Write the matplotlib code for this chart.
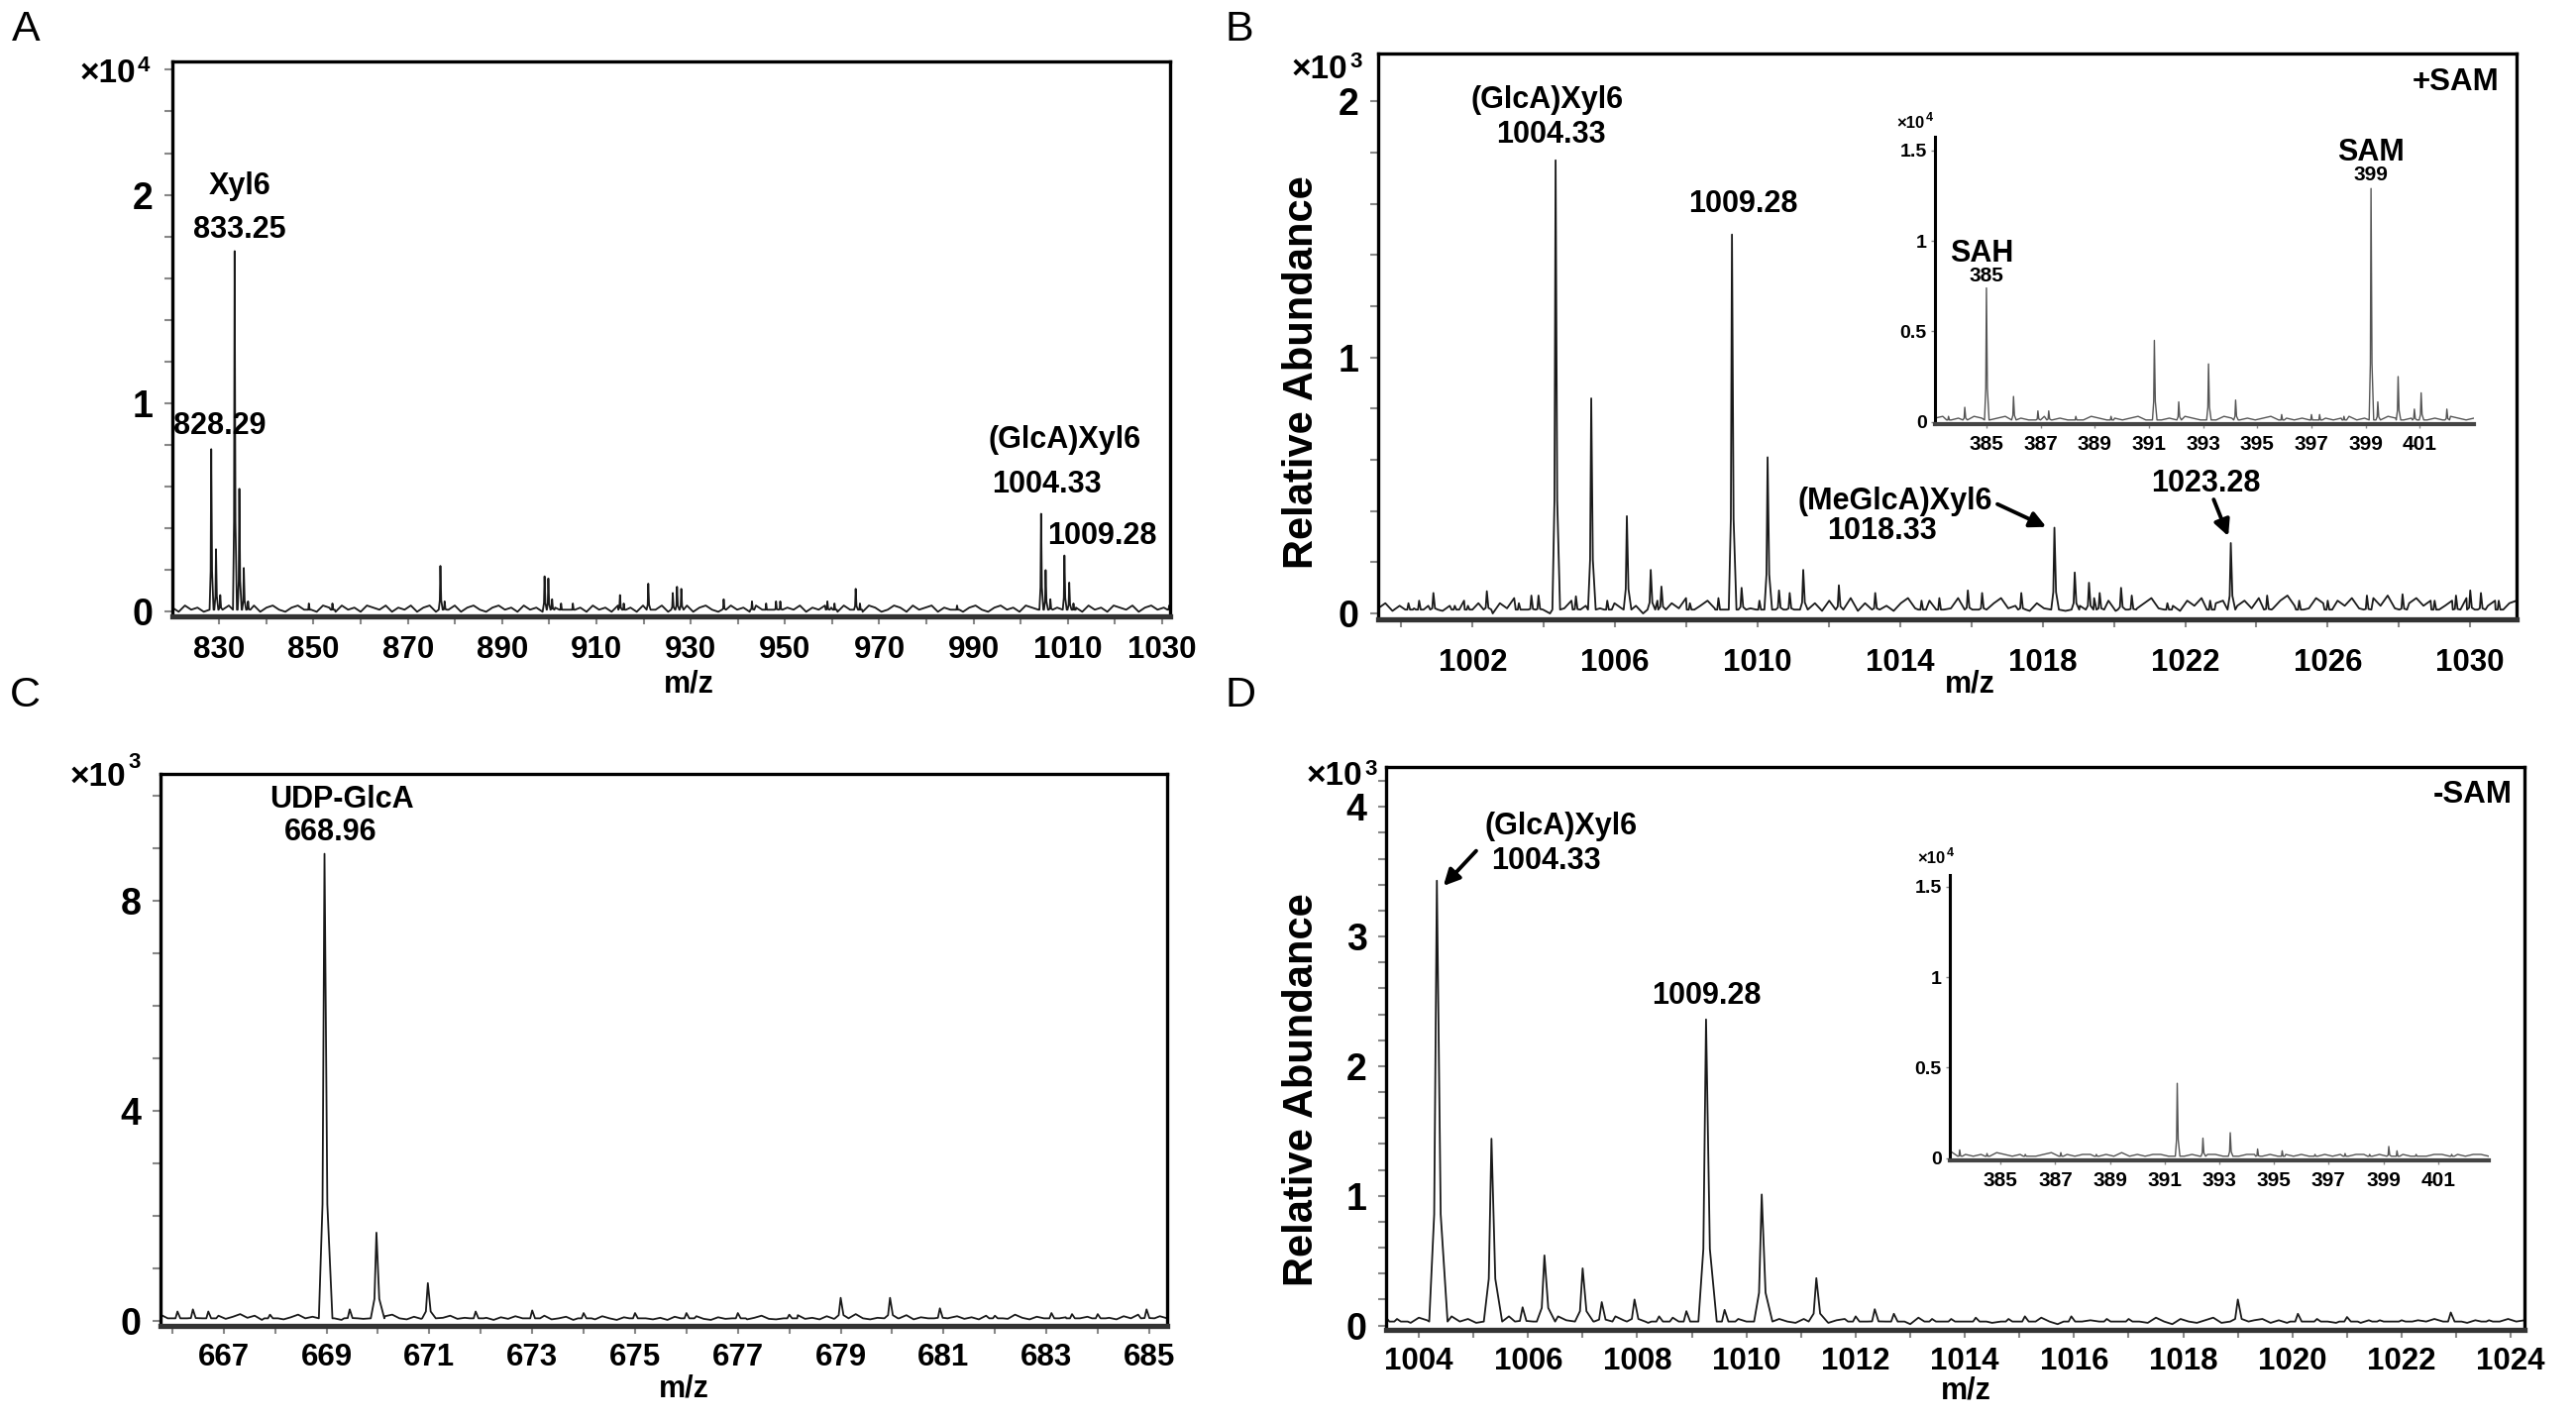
import numpy as np
import matplotlib
matplotlib.use("Agg")
import matplotlib.pyplot as plt
from matplotlib.ticker import MultipleLocator

W, H = 2600, 1435

# ===============================
# Data: peaks (m/z, intensity) + baseline noise
# ===============================
# Panel A, intensity in units of 1e4
a_mz = [828.29, 829.3, 830.2, 833.25, 834.25, 835.2, 836.1, 849.0, 854.0, 876.9, 877.8,
        899.0, 899.8, 900.6, 902.5, 905.0, 915.0, 915.8, 921.0, 926.2, 927.1, 928.0,
        937.0, 943.0, 946.0, 948.1, 949.0, 959.0, 960.5, 965.0, 965.9, 986.5,
        1004.33, 1005.3, 1006.3, 1009.28, 1010.3, 1011.2, 1031.5]
a_int = [0.78, 0.30, 0.08, 1.73, 0.59, 0.21, 0.05, 0.04, 0.04, 0.22, 0.05,
         0.17, 0.16, 0.06, 0.04, 0.04, 0.08, 0.04, 0.135, 0.09, 0.12, 0.11,
         0.06, 0.05, 0.04, 0.05, 0.05, 0.05, 0.04, 0.11, 0.04, 0.03,
         0.47, 0.20, 0.06, 0.27, 0.14, 0.04, 0.03]
a_noise = [0.02, 0.00, 0.03, 0.01, 0.02, 0.00, 0.03, 0.01, 0.02, 0.03,
           0.00, 0.02, 0.01, 0.03, 0.00, 0.02, 0.03, 0.01, 0.00, 0.02,
           0.03, 0.01, 0.02, 0.00, 0.03, 0.02, 0.00, 0.03, 0.01, 0.02,
           0.00, 0.03, 0.02, 0.01, 0.03, 0.00, 0.02, 0.01, 0.03, 0.00,
           0.02, 0.03, 0.00, 0.02, 0.01, 0.03, 0.00, 0.02, 0.03, 0.01,
           0.00, 0.02, 0.03, 0.01, 0.02, 0.00, 0.03, 0.01, 0.02, 0.00,
           0.03, 0.02, 0.00, 0.01, 0.03, 0.02, 0.00, 0.03, 0.01, 0.02,
           0.00, 0.03, 0.01, 0.02, 0.00, 0.03, 0.02, 0.01, 0.03, 0.00,
           0.02, 0.01, 0.03, 0.00, 0.02, 0.03, 0.01, 0.00, 0.02, 0.03,
           0.01, 0.02, 0.00, 0.03, 0.01, 0.02, 0.03, 0.00, 0.02, 0.01,
           0.03, 0.00, 0.02, 0.01, 0.03, 0.02, 0.00, 0.03, 0.01, 0.02,
           0.00, 0.03, 0.02, 0.00, 0.01, 0.03, 0.02, 0.00, 0.03, 0.01,
           0.02, 0.03, 0.00, 0.02, 0.01, 0.03, 0.00, 0.02, 0.03, 0.01,
           0.00, 0.02, 0.03, 0.01, 0.02, 0.00, 0.03, 0.02, 0.01, 0.03,
           0.00, 0.02, 0.01, 0.03, 0.02, 0.00, 0.03, 0.01, 0.02, 0.00,
           0.03, 0.02, 0.01, 0.03, 0.00, 0.02, 0.03, 0.01, 0.02, 0.04]

# Panel B (+SAM), intensity in units of 1e3
b_mz = [1000.2, 1000.5, 1000.9, 1001.5, 1001.87, 1002.4, 1003.3, 1003.65, 1003.85, 1004.33,
        1004.9, 1005.33, 1005.78, 1006.33, 1007.0, 1007.3, 1008.1, 1008.9, 1009.28, 1009.55,
        1010.05, 1010.28, 1010.6, 1010.9, 1011.28, 1012.28, 1013.3, 1014.6, 1015.1, 1015.9,
        1016.3, 1017.4, 1018.33, 1018.9, 1019.3, 1019.6, 1020.2, 1020.5, 1021.5, 1022.7,
        1023.28, 1024.3, 1025.2, 1026.0, 1027.1, 1028.1, 1029.0, 1029.6, 1030.0, 1030.3,
        1030.8]
b_int = [0.04, 0.05, 0.08, 0.03, 0.03, 0.087, 0.04, 0.07, 0.07, 1.77,
         0.067, 0.84, 0.05, 0.38, 0.17, 0.105, 0.04, 0.06, 1.48, 0.10,
         0.05, 0.61, 0.09, 0.08, 0.17, 0.11, 0.08, 0.05, 0.06, 0.09,
         0.08, 0.08, 0.335, 0.16, 0.12, 0.08, 0.10, 0.07, 0.04, 0.05,
         0.275, 0.07, 0.05, 0.05, 0.07, 0.075, 0.05, 0.07, 0.09, 0.08,
         0.05]
b_noise = [0.02, 0.04, 0.01, 0.03, 0.06, 0.02, 0.00, 0.03, 0.05, 0.01,
           0.03, 0.02, 0.05, 0.01, 0.04, 0.02, 0.00, 0.04, 0.02, 0.06,
           0.01, 0.03, 0.05, 0.02, 0.00, 0.04, 0.02, 0.05, 0.01, 0.03,
           0.06, 0.02, 0.01, 0.04, 0.02, 0.05, 0.03, 0.00, 0.03, 0.05,
           0.01, 0.04, 0.02, 0.06, 0.01, 0.03, 0.05, 0.02, 0.04, 0.01,
           0.03, 0.06, 0.02, 0.00, 0.04, 0.03, 0.05, 0.01, 0.03, 0.06,
           0.02, 0.04, 0.01, 0.05, 0.03, 0.02, 0.06, 0.01, 0.04, 0.02,
           0.05, 0.03, 0.01, 0.04, 0.06, 0.02, 0.03, 0.05, 0.01, 0.04,
           0.02, 0.06, 0.03, 0.01, 0.05, 0.02, 0.04, 0.06, 0.02, 0.03,
           0.05, 0.01, 0.04, 0.02, 0.06, 0.03, 0.01, 0.05, 0.03, 0.02,
           0.06, 0.03, 0.05, 0.01, 0.04, 0.07, 0.02, 0.04, 0.06, 0.02,
           0.05, 0.03, 0.01, 0.05, 0.03, 0.06, 0.02, 0.04, 0.05, 0.07,
           0.03, 0.05, 0.02, 0.06, 0.04, 0.02, 0.05, 0.07, 0.03, 0.05,
           0.02, 0.06, 0.04, 0.01, 0.05, 0.03, 0.06, 0.02, 0.04, 0.06,
           0.03, 0.07, 0.02, 0.05, 0.04, 0.06, 0.03, 0.05, 0.07, 0.03,
           0.05, 0.02, 0.06, 0.04, 0.07, 0.03, 0.05, 0.06, 0.04, 0.05]

# Panel B inset, intensity in units of 1e4
ib_mz = [383.6, 384.2, 385.0, 386.0, 386.9, 387.3, 388.3, 389.6, 391.2, 392.1, 393.2,
         394.2, 395.9, 397.0, 397.3, 398.2, 399.2, 399.45, 400.2, 400.8, 401.05, 402.0]
ib_int = [0.03, 0.08, 0.74, 0.14, 0.06, 0.06, 0.03, 0.03, 0.45, 0.11, 0.32,
          0.12, 0.04, 0.04, 0.04, 0.03, 1.29, 0.11, 0.25, 0.07, 0.16, 0.07]
ib_noise = [0.02, 0.03, 0.01, 0.02, 0.01, 0.03, 0.02, 0.01, 0.02, 0.03,
            0.01, 0.02, 0.01, 0.02, 0.03, 0.01, 0.02, 0.01, 0.02, 0.01,
            0.03, 0.02, 0.01, 0.02, 0.01, 0.02, 0.03, 0.01, 0.02, 0.01,
            0.02, 0.01, 0.03, 0.02, 0.01, 0.02, 0.01, 0.03, 0.02, 0.01,
            0.02, 0.01, 0.02, 0.03, 0.01, 0.02, 0.01, 0.02, 0.01, 0.03,
            0.02, 0.01, 0.02, 0.03, 0.01, 0.02, 0.02, 0.01, 0.03, 0.02,
            0.01, 0.02, 0.03, 0.01, 0.02, 0.01, 0.03, 0.02, 0.01, 0.02]

# Panel C, intensity in units of 1e3
c_mz = [666.1, 666.4, 666.7, 667.9, 668.96, 669.45, 669.97, 670.97, 671.9, 673.0, 674.0,
        675.0, 676.0, 677.0, 678.0, 679.0, 679.96, 680.93, 682.0, 683.1, 683.5, 684.0, 684.95]
c_int = [0.18, 0.22, 0.18, 0.12, 8.89, 0.22, 1.68, 0.72, 0.18, 0.20, 0.15,
         0.15, 0.15, 0.15, 0.12, 0.44, 0.44, 0.24, 0.10, 0.15, 0.13, 0.13, 0.22]
c_noise = [0.12, 0.05, 0.14, 0.08, 0.03, 0.11, 0.15, 0.07, 0.10, 0.04,
           0.08, 0.13, 0.06, 0.10, 0.02, 0.06, 0.09, 0.03, 0.07, 0.12,
           0.05, 0.08, 0.03, 0.10, 0.05, 0.02, 0.07, 0.11, 0.04, 0.06,
           0.03, 0.09, 0.12, 0.05, 0.03, 0.08, 0.04, 0.07, 0.02, 0.06,
           0.10, 0.04, 0.06, 0.03, 0.11, 0.06, 0.02, 0.07, 0.04, 0.09,
           0.05, 0.02, 0.06, 0.10, 0.03, 0.05, 0.08, 0.02, 0.05, 0.07,
           0.03, 0.09, 0.05, 0.02, 0.07, 0.04, 0.11, 0.05, 0.03, 0.06,
           0.02, 0.08, 0.05, 0.03, 0.09, 0.04, 0.02, 0.07, 0.04, 0.06,
           0.08, 0.03, 0.06, 0.10, 0.04, 0.03, 0.08, 0.05, 0.11, 0.04,
           0.06, 0.03, 0.09, 0.04, 0.06, 0.08, 0.13, 0.05, 0.03, 0.06,
           0.04, 0.09, 0.05, 0.11, 0.03, 0.07, 0.05, 0.10, 0.04, 0.06,
           0.09, 0.04, 0.07, 0.03, 0.10, 0.05, 0.08, 0.04, 0.12, 0.06,
           0.03, 0.08, 0.05, 0.10, 0.04, 0.07, 0.11, 0.05, 0.08, 0.04,
           0.10, 0.06, 0.03, 0.09, 0.05, 0.12, 0.06, 0.04, 0.09, 0.05]

# Panel D (-SAM), intensity in units of 1e3
d_mz = [1003.6, 1004.33, 1005.33, 1005.9, 1006.3, 1007.0, 1007.35, 1007.95, 1008.4, 1008.9,
        1009.26, 1009.6, 1010.28, 1011.28, 1012.0, 1012.35, 1012.7, 1013.4, 1013.75, 1014.2,
        1014.8, 1015.1, 1015.95, 1016.6, 1017.0, 1019.0, 1020.1, 1020.45, 1021.0, 1021.6,
        1022.0, 1022.9, 1023.6]
d_int = [0.05, 3.43, 1.44, 0.14, 0.54, 0.44, 0.18, 0.20, 0.07, 0.11,
         2.36, 0.12, 1.01, 0.365, 0.07, 0.125, 0.09, 0.05, 0.05, 0.06,
         0.05, 0.07, 0.07, 0.05, 0.05, 0.20, 0.09, 0.05, 0.065, 0.04,
         0.04, 0.10, 0.04]
d_noise = [0.06, 0.03, 0.05, 0.02, 0.06, 0.04, 0.02, 0.05, 0.07, 0.03,
           0.05, 0.02, 0.06, 0.03, 0.05, 0.07, 0.02, 0.04, 0.03, 0.06,
           0.02, 0.07, 0.04, 0.02, 0.06, 0.03, 0.05, 0.02, 0.07, 0.04,
           0.03, 0.06, 0.02, 0.05, 0.03, 0.06, 0.02, 0.04, 0.05, 0.02,
           0.06, 0.03, 0.02, 0.05, 0.03, 0.06, 0.02, 0.04, 0.05, 0.03,
           0.02, 0.05, 0.03, 0.06, 0.02, 0.04, 0.05, 0.02, 0.03, 0.06,
           0.03, 0.02, 0.05, 0.03, 0.01, 0.06, 0.03, 0.05, 0.02, 0.04,
           0.05, 0.02, 0.03, 0.06, 0.02, 0.04, 0.01, 0.05, 0.03, 0.02,
           0.06, 0.03, 0.01, 0.05, 0.03, 0.02, 0.04, 0.06, 0.02, 0.03,
           0.05, 0.01, 0.04, 0.02, 0.06, 0.03, 0.01, 0.05, 0.03, 0.02,
           0.04, 0.06, 0.02, 0.03, 0.05, 0.01, 0.04, 0.05, 0.02, 0.04,
           0.02, 0.05, 0.03, 0.01, 0.04, 0.06, 0.02, 0.03, 0.05, 0.02,
           0.04, 0.02, 0.05, 0.03, 0.06, 0.02, 0.04, 0.03, 0.05, 0.02,
           0.03, 0.05, 0.02, 0.04, 0.06, 0.03, 0.02, 0.05, 0.03, 0.04]

# Panel D inset, intensity in units of 1e4
id_mz = [383.5, 384.5, 385.9, 387.2, 388.5, 391.46, 392.4, 393.4, 394.4, 395.3,
         396.5, 397.6, 398.5, 399.2, 399.5, 400.2, 401.5]
id_int = [0.045, 0.025, 0.02, 0.03, 0.02, 0.413, 0.11, 0.14, 0.05, 0.04,
          0.02, 0.025, 0.02, 0.064, 0.04, 0.02, 0.02]
id_noise = [0.04, 0.03, 0.02, 0.01, 0.02, 0.01, 0.03, 0.02, 0.01, 0.02,
            0.02, 0.01, 0.02, 0.03, 0.01, 0.02, 0.01, 0.02, 0.02, 0.01,
            0.02, 0.01, 0.03, 0.01, 0.02, 0.01, 0.02, 0.02, 0.01, 0.02,
            0.01, 0.02, 0.01, 0.02, 0.02, 0.01, 0.02, 0.01, 0.02, 0.02,
            0.01, 0.02, 0.01, 0.02, 0.01, 0.02, 0.01, 0.02, 0.02, 0.01,
            0.02, 0.01, 0.02, 0.02, 0.01, 0.02, 0.02, 0.01, 0.02, 0.01,
            0.02, 0.01, 0.02, 0.02, 0.01, 0.02, 0.01, 0.02, 0.02, 0.01]

inset_xticks = [385, 387, 389, 391, 393, 395, 397, 399, 401]
inset_yticks = [0, 0.5, 1, 1.5]
inset_ylabels = ["0", "0.5", "1", "1.5"]

plt.rcParams["font.family"] = ["Liberation Sans", "DejaVu Sans"]
plt.rcParams["font.weight"] = "bold"

LINE = "#1a1a1a"
INSET_LINE = "#555555"


def spectrum(mz, inten, noise, xlim, w, base):
    # each peak drawn as a narrow spike on top of the baseline noise
    xs, ys = [], []
    for m, h in zip(mz, inten):
        sh = max(0.25 * h, base)
        xs += [m - w, m - 0.35 * w, m, m + 0.5 * w, m + 1.4 * w]
        ys += [base, sh, h, sh, base]
    nx = np.linspace(xlim[0], xlim[1], len(noise))
    keep = np.ones(len(nx), bool)
    for m in mz:
        keep &= ~((nx > m - 1.1 * w) & (nx < m + 1.5 * w))
    xs = np.r_[xs, nx[keep]]
    ys = np.r_[ys, np.asarray(noise)[keep]]
    order = np.argsort(xs)
    return xs[order], ys[order]


def px_axes(fig, l, t, r, b):
    return fig.add_axes([l / W, 1 - b / H, (r - l) / W, (b - t) / H])


def style_main(ax, xlim, ylim, xticks, xminor, yticks, yminor, xpad=7):
    ax.set_xlim(xlim)
    ax.set_ylim(ylim)
    ax.set_xticks(xticks, [str(t) for t in xticks])
    ax.xaxis.set_minor_locator(MultipleLocator(xminor))
    ax.set_yticks(yticks, [str(t) for t in yticks])
    ax.yaxis.set_minor_locator(MultipleLocator(yminor))
    for s in ax.spines.values():
        s.set_linewidth(2.4)
    ax.spines["bottom"].set_linewidth(3.8)
    ax.spines["bottom"].set_color("#333333")
    ax.tick_params(which="both", direction="out", color="#888888", width=1.5, length=6)
    ax.tick_params(axis="x", labelsize=22.5, pad=xpad)
    ax.tick_params(axis="y", labelsize=27, pad=8)


def style_inset(ax, xlim, ylim):
    ax.set_xlim(xlim)
    ax.set_ylim(ylim)
    ax.patch.set_alpha(0)
    ax.spines["top"].set_visible(False)
    ax.spines["right"].set_visible(False)
    ax.spines["left"].set_linewidth(2.2)
    ax.spines["bottom"].set_linewidth(3)
    ax.spines["bottom"].set_color("#444444")
    ax.set_xticks(inset_xticks, [str(t) for t in inset_xticks])
    ax.set_yticks(inset_yticks, inset_ylabels)
    ax.tick_params(which="both", direction="out", color="#888888", width=1, length=3)
    ax.tick_params(axis="x", labelsize=15, pad=5)
    ax.tick_params(axis="y", labelsize=14, pad=3)


def power_label(fig, x_end, base_y, power, sup_y, size=24, sup=16):
    fig.text(x_end / W, 1 - base_y / H, "×10", ha="right", va="baseline",
             fontsize=size, fontweight="bold")
    fig.text((x_end + 2) / W, 1 - sup_y / H, power, ha="left", va="baseline",
             fontsize=sup, fontweight="bold")


fig = plt.figure(figsize=(26, 14.35), dpi=100)
ann = dict(ha="center", va="center", fontsize=22, fontweight="bold")
arrow = dict(arrowstyle="-|>", lw=2.8, color="black", mutation_scale=24, shrinkA=0, shrinkB=0)

# ===============================
# Panel A
# ===============================
axA = px_axes(fig, 174, 62, 1181, 622)
a_xlim = (820.05, 1031.7)
x, y = spectrum(a_mz, a_int, a_noise, a_xlim, 0.35, 0.01)
axA.plot(x, y, color=LINE, lw=1.3)
style_main(axA, a_xlim, (-0.022, 2.64), [830, 850, 870, 890, 910, 930, 950, 970, 990, 1010, 1030],
           10, [0, 1, 2], 0.2, xpad=8)
axA.text(834.3, 2.04, "Xyl6", **ann)
axA.text(834.3, 1.83, "833.25", **ann)
axA.text(830.1, 0.89, "828.29", **ann)
axA.text(1009.4, 0.824, "(GlcA)Xyl6", **ann)
axA.text(1005.5, 0.61, "1004.33", **ann)
axA.text(1017.2, 0.364, "1009.28", **ann)

# ===============================
# Panel B
# ===============================
axB = px_axes(fig, 1391, 54, 2540, 625)
b_xlim = (999.35, 1031.3)
x, y = spectrum(b_mz, b_int, b_noise, b_xlim, 0.09, 0.015)
axB.plot(x, y, color=LINE, lw=1.3)
style_main(axB, b_xlim, (-0.023, 2.187), [1002, 1006, 1010, 1014, 1018, 1022, 1026, 1030],
           2, [0, 1, 2], 0.2, xpad=15)
axB.text(1004.1, 2.005, "(GlcA)Xyl6", **ann)
axB.text(1004.2, 1.87, "1004.33", **ann)
axB.text(1009.6, 1.60, "1009.28", **ann)
axB.text(1013.87, 0.436, "(MeGlcA)Xyl6", **ann)
axB.text(1013.5, 0.32, "1018.33", **ann)
axB.text(1022.57, 0.507, "1023.28", **ann)
axB.annotate("", xy=(1018.1, 0.338), xytext=(1016.73, 0.427), arrowprops=arrow)
axB.annotate("", xy=(1023.21, 0.302), xytext=(1022.8, 0.445), arrowprops=arrow)
axB.text(0.985, 0.95, "+SAM", transform=axB.transAxes, ha="right", va="center",
         fontsize=22.5, fontweight="bold")

axBi = px_axes(fig, 1953, 138, 2497, 428)
ib_xlim = (383.1, 403.0)
x, y = spectrum(ib_mz, ib_int, ib_noise, ib_xlim, 0.07, 0.01)
axBi.plot(x, y, color=INSET_LINE, lw=1.0)
style_inset(axBi, ib_xlim, (-0.013, 1.576))
axBi.text(384.83, 0.93, "SAH", ha="center", va="center", fontsize=22, fontweight="bold")
axBi.text(385.0, 0.806, "385", ha="center", va="center", fontsize=15, fontweight="bold")
axBi.text(399.18, 1.486, "SAM", ha="center", va="center", fontsize=22, fontweight="bold")
axBi.text(399.18, 1.366, "399", ha="center", va="center", fontsize=15, fontweight="bold")

# ===============================
# Panel C
# ===============================
axC = px_axes(fig, 162, 781, 1178, 1338)
c_xlim = (665.77, 685.35)
x, y = spectrum(c_mz, c_int, c_noise, c_xlim, 0.11, 0.05)
axC.plot(x, y, color=LINE, lw=1.3)
style_main(axC, c_xlim, (-0.094, 10.41), [667, 669, 671, 673, 675, 677, 679, 681, 683, 685],
           1, [0, 4, 8], 1, xpad=6)
axC.text(669.3, 9.92, "UDP-GlcA", **ann)
axC.text(669.07, 9.30, "668.96", **ann)

# ===============================
# Panel D
# ===============================
axD = px_axes(fig, 1399, 774, 2548, 1342)
d_xlim = (1003.4, 1024.25)
x, y = spectrum(d_mz, d_int, d_noise, d_xlim, 0.14, 0.03)
axD.plot(x, y, color=LINE, lw=1.3)
style_main(axD, d_xlim, (-0.034, 4.307), [1004, 1006, 1008, 1010, 1012, 1014, 1016, 1018, 1020, 1022, 1024],
           1, [0, 1, 2, 3, 4], 0.2, xpad=6)
axD.text(1006.6, 3.85, "(GlcA)Xyl6", **ann)
axD.text(1006.33, 3.58, "1004.33", **ann)
axD.text(1009.26, 2.54, "1009.28", **ann)
axD.annotate("", xy=(1004.45, 3.39), xytext=(1005.05, 3.66), arrowprops=arrow)
axD.text(0.989, 0.95, "-SAM", transform=axD.transAxes, ha="right", va="center",
         fontsize=22.5, fontweight="bold")

axDi = px_axes(fig, 1968, 883, 2512, 1171)
id_xlim = (383.14, 402.86)
x, y = spectrum(id_mz, id_int, id_noise, id_xlim, 0.07, 0.01)
axDi.plot(x, y, color=INSET_LINE, lw=1.0)
style_inset(axDi, id_xlim, (-0.013, 1.564))

# ===============================
# Figure-level text
# ===============================
for letter, lx, ly in [("A", 12, 10), ("B", 1236, 10), ("C", 10, 682), ("D", 1236, 682)]:
    fig.text(lx / W, 1 - ly / H, letter, ha="left", va="top", fontsize=31, fontweight="normal")

power_label(fig, 137, 83, "4", 72)
power_label(fig, 1360, 79, "3", 68)
power_label(fig, 127, 793, "3", 775)
power_label(fig, 1375, 792, "3", 782)
power_label(fig, 1942, 129, "4", 122, size=12, sup=9)
power_label(fig, 1963, 871, "4", 864, size=12, sup=9)

for mx, my in [(695, 690), (1988, 690), (690, 1401), (1984, 1404)]:
    fig.text(mx / W, 1 - my / H, "m/z", ha="center", va="center", fontsize=22, fontweight="bold")

for ry in [376, 1100]:
    fig.text(1314 / W, 1 - ry / H, "Relative Abundance", rotation=90, ha="center", va="center",
             fontsize=30, fontweight="bold")

plt.savefig("out.png", dpi=100)
